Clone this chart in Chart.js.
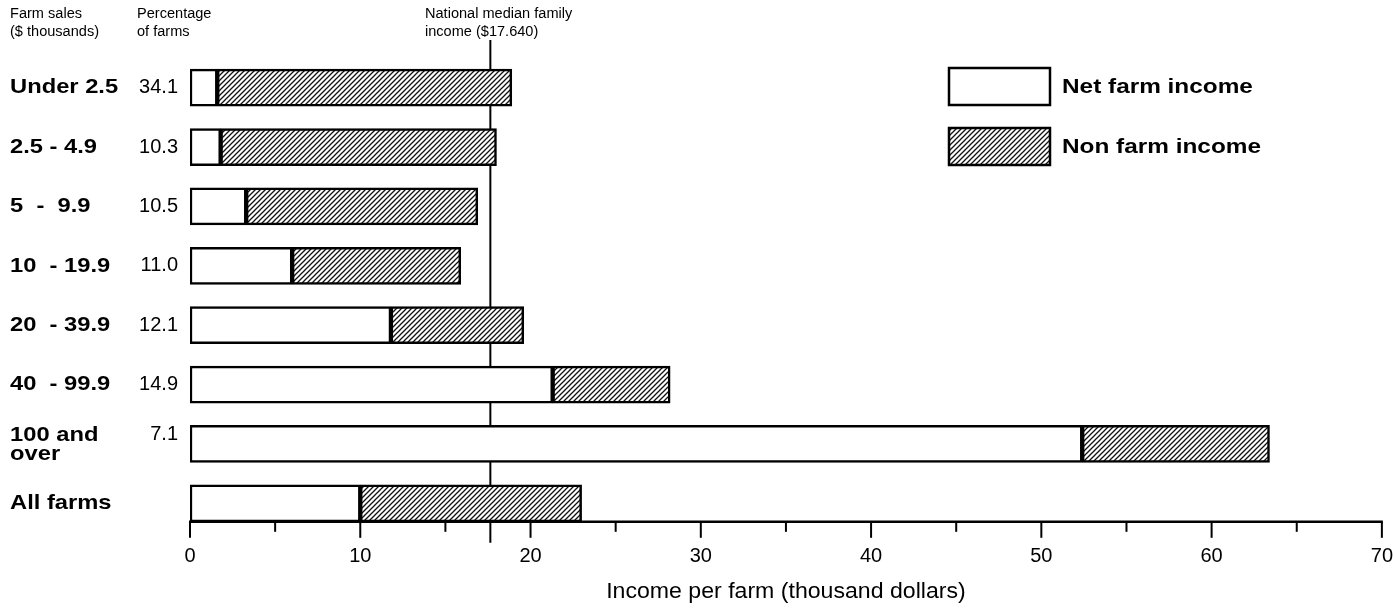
<!DOCTYPE html>
<html><head><meta charset="utf-8">
<script src="https://cdn.jsdelivr.net/npm/chart.js@4.4.1/dist/chart.umd.min.js"></script>
<style>html,body{margin:0;padding:0;background:#fff}#wrap{width:1393px;height:610px;position:relative}</style>
</head><body><div id="wrap"><canvas id="c"></canvas></div>
<script>
// ---- data ----
const categories = ['Under 2.5', '2.5 - 4.9', '5  -  9.9', '10  - 19.9', '20  - 39.9', '40  - 99.9', ['100 and', 'over'], 'All farms'];
const percentOfFarms = ['34.1', '10.3', '10.5', '11.0', '12.1', '14.9', '7.1', ''];
const netFarmIncome = [1.6, 1.8, 3.3, 6.0, 11.8, 21.3, 52.4, 10.0];
const nonFarmIncome = [17.3, 16.2, 13.6, 9.9, 7.8, 6.9, 11.0, 13.0];
const seriesNames = ['Net farm income', 'Non farm income'];
const medianIncome = 17.64;
const medianLabel = ['National median family', 'income ($17.640)'];
const headerSales = ['Farm sales', '($ thousands)'];
const headerPct = ['Percentage', 'of farms'];
const xMin = 0, xMax = 70, xStep = 10;
const axisTitle = 'Income per farm (thousand dollars)';

const FONT = '"Liberation Sans", Arial, Helvetica, sans-serif';

function makeHatch() {
  const t = document.createElement('canvas');
  t.width = 5; t.height = 5;
  const g = t.getContext('2d');
  g.fillStyle = '#fff'; g.fillRect(0, 0, 5, 5);
  g.strokeStyle = '#111'; g.lineWidth = 1.3;
  g.beginPath();
  g.moveTo(-1, 6); g.lineTo(6, -1);
  g.moveTo(-1, 1); g.lineTo(1, -1);
  g.moveTo(4, 6); g.lineTo(6, 4);
  g.stroke();
  return g.createPattern(t, 'repeat');
}
const hatch = makeHatch();
const BAR_T = 37;

function txt(ctx, s, x, y, font, sx, align) {
  ctx.save();
  ctx.font = font;
  ctx.textAlign = align || 'left';
  ctx.textBaseline = 'middle';
  ctx.translate(x, y);
  ctx.scale(sx, 1);
  ctx.fillText(s, 0, 0);
  ctx.restore();
}

const decor = {
  id: 'decor',
  beforeDatasetsDraw(chart) {
    const ctx = chart.ctx, x = chart.scales.x, y = chart.scales.y;
    const mx = x.getPixelForValue(medianIncome);
    const axisY = y.getPixelForValue(categories.length - 1) + BAR_T / 2;
    ctx.save();
    ctx.strokeStyle = '#000'; ctx.lineWidth = 2;
    ctx.beginPath(); ctx.moveTo(mx, 40); ctx.lineTo(mx, axisY + 21); ctx.stroke();
    ctx.restore();
  },
  afterDraw(chart) {
    const ctx = chart.ctx, x = chart.scales.x, y = chart.scales.y;
    const axisY = y.getPixelForValue(categories.length - 1) + BAR_T / 2;
    ctx.save();
    ctx.fillStyle = '#000';
    // axis line and ticks
    ctx.strokeStyle = '#000'; ctx.lineWidth = 2.5;
    ctx.beginPath();
    ctx.moveTo(x.getPixelForValue(xMin) - 1, axisY); ctx.lineTo(x.getPixelForValue(xMax) + 1, axisY);
    ctx.stroke();
    ctx.lineWidth = 2;
    for (let v = xMin; v <= xMax; v += xStep / 2) {
      const px = x.getPixelForValue(v);
      const len = (v % xStep === 0) ? 16 : 10;
      ctx.beginPath(); ctx.moveTo(px, axisY); ctx.lineTo(px, axisY + len); ctx.stroke();
    }
    // category labels and percentages
    const catFont = 'bold 21px ' + FONT;
    categories.forEach((c, i) => {
      const cy = y.getPixelForValue(i);
      if (Array.isArray(c)) {
        txt(ctx, c[0], 10, cy - 9, catFont, 1.13);
        txt(ctx, c[1], 10, cy + 10, catFont, 1.13);
      } else {
        txt(ctx, c, 10, cy, catFont, 1.13);
      }
      txt(ctx, percentOfFarms[i], 178, Array.isArray(c) ? cy - 9 : cy, '20px ' + FONT, 1.0, 'right');
    });
    // headers
    [[headerSales, 10], [headerPct, 137], [medianLabel, 425]].forEach(([lines, hx]) => {
      txt(ctx, lines[0], hx, 14, '14px ' + FONT, 1.04);
      txt(ctx, lines[1], hx, 32, '14px ' + FONT, 1.04);
    });
    // legend
    chart.data.datasets.forEach((d, i) => {
      const ly = 68 + i * 60;
      ctx.fillStyle = d.backgroundColor;
      ctx.fillRect(949, ly, 101, 37);
      ctx.strokeStyle = '#000'; ctx.lineWidth = 2.5;
      ctx.strokeRect(949, ly, 101, 37);
      ctx.fillStyle = '#000';
      txt(ctx, d.label, 1062, ly + 19, 'bold 21px ' + FONT, 1.16);
    });
    // axis title
    txt(ctx, axisTitle, (x.getPixelForValue(xMin) + x.getPixelForValue(xMax)) / 2, 592, '22px ' + FONT, 1.05, 'center');
    ctx.restore();
  }
};

new Chart(document.getElementById('c'), {
  type: 'bar',
  data: {
    labels: categories,
    datasets: [
      { label: seriesNames[0], data: netFarmIncome, backgroundColor: '#fff', borderColor: '#000', borderWidth: 2.5, borderSkipped: false, barThickness: BAR_T },
      { label: seriesNames[1], data: nonFarmIncome, backgroundColor: hatch, borderColor: '#000', borderWidth: 2.5, borderSkipped: false, barThickness: BAR_T }
    ]
  },
  options: {
    indexAxis: 'y',
    responsive: true,
    maintainAspectRatio: false,
    animation: false,
    devicePixelRatio: 1,
    layout: { padding: { top: 58, left: 190, right: 8, bottom: 42 } },
    scales: {
      x: {
        stacked: true, min: xMin, max: xMax,
        grid: { display: false, drawTicks: true, tickLength: 11 }, border: { display: false },
        ticks: { stepSize: xStep, color: '#000', padding: 0, font: { family: FONT, size: 20 } }
      },
      y: { stacked: true, display: false }
    },
    plugins: { legend: { display: false }, tooltip: { enabled: false } }
  },
  plugins: [decor]
});
</script>
</body></html>
